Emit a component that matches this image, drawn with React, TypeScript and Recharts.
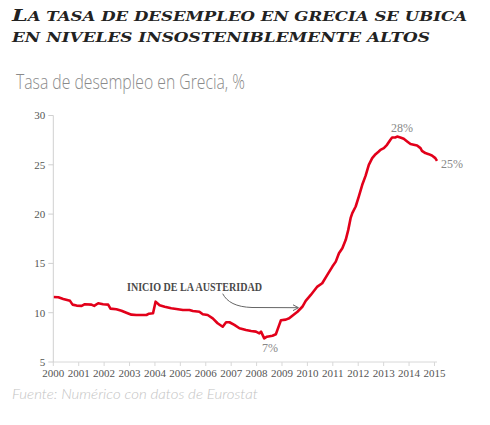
import React from 'react';
import { LineChart, Line, XAxis, YAxis } from 'recharts';

// Months since January 2000 (read positions) and unemployment rate (%)
const monthIndex = [
  0, 2.4, 4.7, 7.9, 9.1, 11, 13.4, 14.9, 18, 19.3, 21.2, 23.5, 25.9, 27, 29.8, 32.2,
  34.5, 36.9, 39.2, 44, 45.2, 47.1, 48.3, 50.2, 52.6, 55.7, 58.1, 61.2, 64.3, 65.9,
  69, 70.6, 72.9, 75.3, 77.6, 80, 81.6, 83.2, 85.5, 87.9, 91, 93.4, 95.7, 97.3, 98.1,
  99.6, 100.9, 103.5, 105.1, 106.7, 107.5, 109.8, 111.4, 112.9, 115.3, 117.6, 119.2,
  121.6, 124.7, 127, 129.4, 131.8, 133.4, 134.9, 136.5, 138.1, 139.3, 140.4, 141.2,
  142.8, 144.3, 145.9, 147.5, 149, 150.6, 152.2, 153.7, 154.5, 156.1, 157.6, 159.2,
  160, 161.6, 162.4, 163.9, 165.5, 167.1, 168.7, 170.2, 171.8, 173.4, 174.1, 175.7,
  177.3, 178.8, 180.4, 181.2,
];
const rate = [
  11.6, 11.57, 11.4, 11.2, 10.82, 10.72, 10.69, 10.86, 10.82, 10.69, 10.96, 10.86, 10.82, 10.41, 10.35, 10.2,
  10.0, 9.8, 9.77, 9.77, 9.9, 9.94, 11.12, 10.75, 10.61, 10.45, 10.38, 10.28, 10.28, 10.18,
  10.1, 9.84, 9.77, 9.43, 8.93, 8.58, 9.03, 9.03, 8.76, 8.42, 8.25, 8.15, 8.08, 7.91, 8.08,
  7.4, 7.57, 7.67, 7.81, 8.76, 9.23, 9.3, 9.43, 9.7, 10.1, 10.6, 11.2,
  11.8, 12.65, 12.99, 13.83, 14.68, 15.18, 16.03, 16.54, 17.39, 18.4, 19.59, 20.1,
  20.77, 21.8, 22.97, 23.9, 25.0, 25.68, 26.08, 26.35, 26.52, 26.69, 27.03, 27.54,
  27.77, 27.77, 27.87, 27.77, 27.64, 27.37, 27.1, 27.03, 26.96, 26.69, 26.42, 26.19,
  26.08, 25.94, 25.68, 25.4,
];
const yearTicks = [2000, 2001, 2002, 2003, 2004, 2005, 2006, 2007, 2008, 2009, 2010, 2011, 2012, 2013, 2014, 2015];
const rateTicks = [5, 10, 15, 20, 25, 30];

const data = monthIndex.map((m, i) => ({ year: 2000 + m / 12, rate: rate[i] }));

const tickStyle = { fontFamily: '"Liberation Serif", serif', fontSize: 11, fill: '#555' };
const titleStyle = { fontFamily: '"DejaVu Serif", serif', fontWeight: 700, fontStyle: 'italic' as const, fill: '#222' };

export default function App() {
  return (
    <div style={{ position: 'absolute', left: 0, top: 0, width: 490, height: 425, background: '#fff' }}>
      <LineChart
        width={490}
        height={425}
        data={data}
        margin={{ top: 115.5, right: 53, bottom: 33, left: 8 }}
        style={{ position: 'absolute', left: 0, top: 0 }}
      >
        <XAxis
          dataKey="year"
          type="number"
          domain={[2000, 2015]}
          ticks={yearTicks}
          interval={0}
          height={30}
          tickSize={4}
          tickMargin={3}
          stroke="#d8d8d8"
          tick={tickStyle}
        />
        <YAxis
          type="number"
          domain={[5, 30]}
          ticks={rateTicks}
          interval={0}
          width={45.3}
          tickSize={5}
          tickMargin={3}
          stroke="#d0d0d0"
          tick={tickStyle}
        />
        <Line
          dataKey="rate"
          type="linear"
          stroke="#e2001a"
          strokeWidth={2.6}
          dot={false}
          isAnimationActive={false}
          strokeLinejoin="round"
        />
      </LineChart>
      <svg width={490} height={425} style={{ position: 'absolute', left: 0, top: 0, pointerEvents: 'none' }}>
        <text x={12} y={20.5} textLength={455} lengthAdjust="spacingAndGlyphs" style={titleStyle}>
          <tspan style={{ fontSize: 17 }}>L</tspan>
          <tspan style={{ fontSize: 12.6 }}>A TASA DE DESEMPLEO EN GRECIA SE UBICA</tspan>
        </text>
        <text x={12} y={41.5} textLength={418} lengthAdjust="spacingAndGlyphs" style={{ ...titleStyle, fontSize: 12.6 }}>
          EN NIVELES INSOSTENIBLEMENTE ALTOS
        </text>
        <text
          x={16}
          y={88.5}
          textLength={229}
          lengthAdjust="spacingAndGlyphs"
          style={{ fontFamily: '"Open Sans", sans-serif', fontWeight: 300, fontSize: 20, fill: '#8a8a8a' }}
        >
          Tasa de desempleo en Grecia, %
        </text>
        <text
          x={12}
          y={398.5}
          textLength={246}
          lengthAdjust="spacingAndGlyphs"
          style={{ fontFamily: 'Lato, sans-serif', fontWeight: 300, fontStyle: 'italic', fontSize: 14.5, fill: '#c4c4c4' }}
        >
          Fuente: Numérico con datos de Eurostat
        </text>
        <text
          x={127}
          y={290.5}
          textLength={135}
          lengthAdjust="spacingAndGlyphs"
          stroke="#fff"
          strokeWidth={3}
          paintOrder="stroke"
          style={{ fontFamily: '"Liberation Serif", serif', fontWeight: 700, fontSize: 11.5, fill: '#4a4a4a' }}
        >
          INICIO DE LA AUSTERIDAD
        </text>
        <path d="M222.7,293.7 C227,302 236,307 252,307.5 L298,307.7" fill="none" stroke="#666" strokeWidth={1} />
        <path d="M293,304.8 L298.5,307.7 L293,310.6" fill="none" stroke="#666" strokeWidth={1} />
        <text x={270} y={352} textAnchor="middle" style={{ fontFamily: '"Liberation Serif", serif', fontSize: 12, fill: '#888' }}>7%</text>
        <text x={402} y={132} textAnchor="middle" style={{ fontFamily: '"Liberation Serif", serif', fontSize: 12, fill: '#888' }}>28%</text>
        <text x={452} y={168} textAnchor="middle" style={{ fontFamily: '"Liberation Serif", serif', fontSize: 12, fill: '#888' }}>25%</text>
      </svg>
    </div>
  );
}
